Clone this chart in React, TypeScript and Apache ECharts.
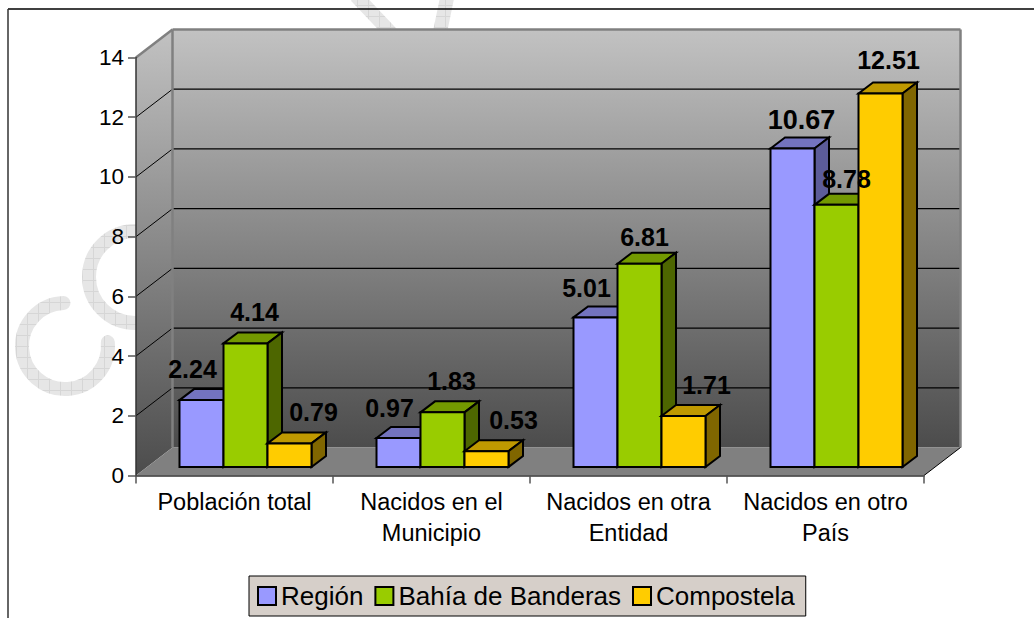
import React, { useEffect, useRef } from "react";
import * as echarts from "echarts";

const categories = ["Población total", "Nacidos en el\nMunicipio", "Nacidos en otra\nEntidad", "Nacidos en otro\nPaís"];
const seriesNames = ["Región", "Bahía de Banderas", "Compostela"];
const regionValues = [2.24, 0.97, 5.01, 10.67];
const bahiaValues = [4.14, 1.83, 6.81, 8.78];
const compostelaValues = [0.79, 0.53, 1.71, 12.51];
const yTicks = [2, 4, 6, 8, 10, 12, 14];

const FRONT = ["#9999FF", "#99CC00", "#FFCC00"];
const TOP = ["#7373BF", "#739900", "#BF9900"];
const SIDE = ["#5C5C99", "#4D6600", "#806600"];

const WALL_DX = 36.5;
const WALL_DY = -28;
const BAR_DX = 14.5;
const BAR_DY = -11;
const BAR_SHIFT_X = 11;
const BAR_SHIFT_Y = -8.5;
const BAR_RATIO = 44 / 197;

const labelDx = [[-9, -9, -9, 9], [9, 9, 5, 10], [24, 27, 23, 8]];
const labelDy = [[-31, -30, -29, -28], [-31, -31, -27, -26], [-31, -31, -31, -33]];
const labelSize = [[25, 25, 25, 27], [25, 25, 25, 25], [25, 25, 25, 25]];

function hatch(): any {
  const c = document.createElement("canvas");
  c.width = 11;
  c.height = 11;
  const g = c.getContext("2d")!;
  g.fillStyle = "#e6e6e6";
  g.fillRect(0, 0, 11, 11);
  g.fillStyle = "#d6d6d6";
  g.fillRect(0, 5, 11, 1);
  g.fillRect(5, 0, 1, 11);
  return { image: c, repeat: "repeat" };
}

function barSeries(name: string, idx: number, values: number[]) {
  return {
    type: "custom",
    name,
    coordinateSystem: "cartesian2d",
    clip: false,
    z: 3 + idx,
    itemStyle: { color: FRONT[idx] },
    encode: { x: 0, y: 1 },
    data: values.map((v, i) => [i, v]),
    renderItem: (_p: any, api: any) => {
      const c = api.value(0);
      const v = api.value(1);
      const cw = api.size([1, 0])[0];
      const w = cw * BAR_RATIO;
      const cx = api.coord([c, 0])[0] + BAR_SHIFT_X;
      const x0 = cx - 1.5 * w + idx * w;
      const x1 = x0 + w;
      const yb = api.coord([c, 0])[1] + BAR_SHIFT_Y;
      const yt = api.coord([c, v])[1] + BAR_SHIFT_Y;
      const st = (fill: string) => ({ fill, stroke: "#000", lineWidth: 2, lineJoin: "miter" });
      return {
        type: "group",
        children: [
          {
            type: "polygon",
            shape: { points: [[x0, yt], [x0 + BAR_DX, yt + BAR_DY], [x1 + BAR_DX, yt + BAR_DY], [x1, yt]] },
            style: st(TOP[idx]),
          },
          {
            type: "polygon",
            shape: { points: [[x1, yt], [x1 + BAR_DX, yt + BAR_DY], [x1 + BAR_DX, yb + BAR_DY], [x1, yb]] },
            style: st(SIDE[idx]),
          },
          { type: "rect", shape: { x: x0, y: yt, width: w, height: yb - yt }, style: st(FRONT[idx]) },
        ],
      };
    },
  };
}

export default function App() {
  const ref = useRef<HTMLDivElement>(null);
  useEffect(() => {
    const chart = echarts.init(ref.current!, undefined, { renderer: "svg" });
    const allValues = [regionValues, bahiaValues, compostelaValues];
    const wm = hatch();
    const wallGradient = {
      type: "linear",
      x: 0,
      y: 0,
      x2: 0,
      y2: 1,
      colorStops: [
        { offset: 0, color: "#c2c2c2" },
        { offset: 1, color: "#4c4c4c" },
      ],
    };
    const arc = (cx: number, cy: number, r: number, a: number, b: number) => ({
      type: "arc",
      z: -10,
      silent: true,
      shape: { cx, cy, r, startAngle: (a * Math.PI) / 180, endAngle: (b * Math.PI) / 180, clockwise: true },
      style: { stroke: wm, lineWidth: 14, fill: "none", lineCap: "round" },
    });
    chart.setOption({
      animation: false,
      backgroundColor: "#fff",
      tooltip: { show: false },
      grid: { left: 136, right: 110, top: 57.5, bottom: 142.5, containLabel: false },
      xAxis: {
        type: "category",
        data: categories,
        z: 6,
        axisLine: { show: true, lineStyle: { color: "#333", width: 1.5 } },
        axisTick: { show: true, length: 8, lineStyle: { color: "#555", width: 1.5 } },
        axisLabel: {
          color: "#000",
          fontFamily: "Liberation Sans",
          fontSize: 23.5,
          lineHeight: 31,
          margin: 11,
          interval: 0,
        },
      },
      yAxis: {
        type: "value",
        min: 0,
        max: 14,
        interval: 2,
        z: 6,
        axisLine: { show: true, lineStyle: { color: "#333", width: 1.5 } },
        axisTick: { show: true, length: 8, lineStyle: { color: "#555", width: 1.5 } },
        axisLabel: { color: "#000", fontFamily: "Liberation Sans", fontSize: 22.5, margin: 12 },
        splitLine: { show: false },
      },
      legend: {
        show: true,
        left: 249,
        top: 576,
        data: seriesNames,
        orient: "horizontal",
        backgroundColor: "#d6cfc9",
        borderColor: "#000",
        borderWidth: 1,
        padding: [5, 11, 5, 8],
        itemWidth: 18,
        itemHeight: 18,
        itemGap: 11,
        selectedMode: false,
        icon: "rect",
        itemStyle: { borderColor: "#000", borderWidth: 2 },
        textStyle: { color: "#000", fontFamily: "Liberation Sans", fontSize: 26, lineHeight: 30 },
      },
      graphic: [
        {
          type: "line",
          z: -5,
          silent: true,
          shape: { x1: 8, y1: 9, x2: 1034, y2: 9 },
          style: { stroke: "#000", lineWidth: 1.5 },
        },
        {
          type: "line",
          z: -5,
          silent: true,
          shape: { x1: 8, y1: 9, x2: 8, y2: 618 },
          style: { stroke: "#333", lineWidth: 1.5 },
        },
        arc(65, 346, 43, -5, 268),
        arc(135, 277, 46, 90, 270),
        {
          type: "line",
          z: -10,
          silent: true,
          shape: { x1: 356, y1: -4, x2: 392, y2: 34 },
          style: { stroke: wm, lineWidth: 14 },
        },
        {
          type: "line",
          z: -10,
          silent: true,
          shape: { x1: 447, y1: -2, x2: 440, y2: 32 },
          style: { stroke: wm, lineWidth: 14 },
        },
      ],
      series: [
        {
          type: "custom",
          name: "walls",
          coordinateSystem: "cartesian2d",
          clip: false,
          z: 1,
          silent: true,
          data: [[0, 0]],
          encode: { x: 0, y: 1 },
          renderItem: (p: any, api: any) => {
            const g = p.coordSys;
            const left = g.x;
            const right = g.x + g.width;
            const y0 = api.coord([0, 0])[1];
            const yMax = api.coord([0, 14])[1];
            const bl = left + WALL_DX;
            const br = right + WALL_DX;
            const children: any[] = [
              {
                type: "rect",
                shape: { x: bl, y: yMax + WALL_DY, width: br - bl, height: y0 - yMax },
                style: { fill: wallGradient },
              },
              {
                type: "polygon",
                shape: { points: [[left, yMax], [bl, yMax + WALL_DY], [bl, y0 + WALL_DY], [left, y0]] },
                style: { fill: wallGradient },
              },
              {
                type: "polygon",
                shape: { points: [[left, y0], [bl, y0 + WALL_DY], [br, y0 + WALL_DY], [right, y0]] },
                style: { fill: "#808080" },
              },
            ];
            yTicks.forEach((t) => {
              const y = api.coord([0, t])[1];
              if (t !== 14) {
                children.push({
                  type: "line",
                  shape: { x1: bl, y1: y + WALL_DY, x2: br, y2: y + WALL_DY },
                  style: { stroke: "#000", lineWidth: 1.2 },
                });
                children.push({
                  type: "line",
                  shape: { x1: left, y1: y, x2: bl, y2: y + WALL_DY },
                  style: { stroke: "#000", lineWidth: 1 },
                });
              }
            });
            const edge = { stroke: "#808080", lineWidth: 2.5 };
            children.push(
              { type: "line", shape: { x1: bl, y1: yMax + WALL_DY, x2: br, y2: yMax + WALL_DY }, style: edge },
              { type: "line", shape: { x1: bl, y1: yMax + WALL_DY, x2: bl, y2: y0 + WALL_DY }, style: edge },
              { type: "line", shape: { x1: br, y1: yMax + WALL_DY, x2: br, y2: y0 + WALL_DY }, style: edge },
              { type: "line", shape: { x1: left, y1: yMax, x2: bl, y2: yMax + WALL_DY }, style: edge },
              { type: "line", shape: { x1: right, y1: y0, x2: br, y2: y0 + WALL_DY }, style: { stroke: "#000", lineWidth: 1 } }
            );
            return { type: "group", children };
          },
        },
        ...seriesNames.map((n, i) => barSeries(n, i, allValues[i])),
        {
          type: "custom",
          name: "labels",
          coordinateSystem: "cartesian2d",
          clip: false,
          z: 10,
          silent: true,
          encode: { x: 0, y: 1 },
          data: allValues.flatMap((vals, s) => vals.map((v, i) => [i, v, s])),
          renderItem: (_p: any, api: any) => {
            const c = api.value(0);
            const v = api.value(1);
            const s = api.value(2);
            const cw = api.size([1, 0])[0];
            const w = cw * BAR_RATIO;
            const cx = api.coord([c, 0])[0] + BAR_SHIFT_X - w + s * w;
            const yt = api.coord([c, v])[1] + BAR_SHIFT_Y;
            return {
              type: "text",
              x: cx + labelDx[s][c],
              y: yt + labelDy[s][c],
              style: {
                text: v.toFixed(2),
                fill: "#000",
                font: `bold ${labelSize[s][c]}px 'Liberation Sans'`,
                textAlign: "center",
                textVerticalAlign: "middle",
              },
            };
          },
        },
      ],
    });
    return () => chart.dispose();
  }, []);
  return <div ref={ref} style={{ position: "absolute", left: 0, top: 0, width: 1034, height: 618 }} />;
}
